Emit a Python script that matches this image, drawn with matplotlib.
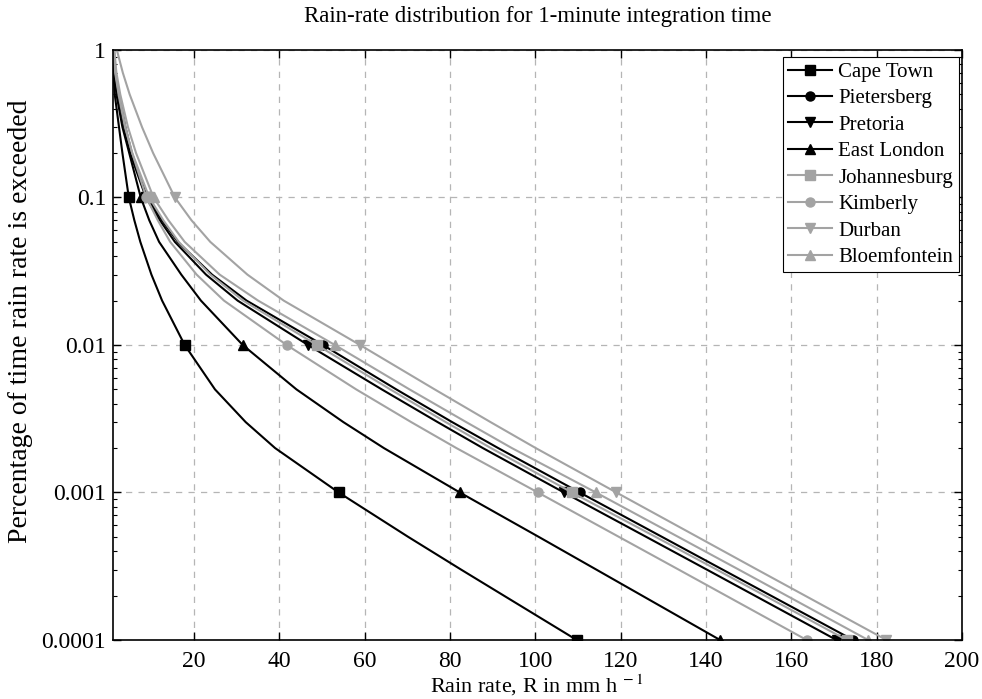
import matplotlib
matplotlib.use("Agg")
import matplotlib.pyplot as plt
import numpy as np
from matplotlib.ticker import FixedLocator, FixedFormatter, LogLocator, NullFormatter

PERCENT = [1, 0.7, 0.5, 0.3, 0.2, 0.1, 0.07, 0.05, 0.03, 0.02, 0.01,
           0.005, 0.003, 0.002, 0.001, 0.0005, 0.0003, 0.0001]
MARKED_PERCENT = [0.1, 0.01, 0.001, 0.0001]

CITIES = ["Cape Town", "Pietersberg", "Pretoria", "East London",
          "Johannesburg", "Kimberly", "Durban", "Bloemfontein"]

# rain rate R (mm/h) for each percentage above
cape_town = [1.0, 1.1, 1.4, 2.4, 3.2, 4.7, 6.0, 7.4, 10.0, 12.5, 17.8,
             24.9, 32.1, 39.0, 53.9, 70.2, 82.6, 109.7]
pietersberg = [1.2, 1.6, 2.4, 3.9, 5.4, 9.0, 12.5, 16.2, 24.2, 32.3, 50.2,
               67.4, 80.5, 91.3, 110.4, 129.7, 143.9, 174.5]
pretoria = [1.1, 1.5, 2.2, 3.6, 5.0, 8.7, 12.0, 15.5, 22.8, 30.2, 46.7,
            64.0, 77.1, 87.7, 106.7, 126.0, 140.2, 170.6]
east_london = [1.0, 1.3, 1.8, 3.2, 4.8, 7.5, 9.5, 11.8, 17.0, 21.6, 31.4,
               44.0, 55.0, 64.5, 82.3, 100.8, 114.3, 143.3]
johannesburg = [1.2, 1.6, 2.4, 3.9, 5.5, 9.5, 12.8, 16.4, 23.8, 31.5, 48.8,
                66.0, 79.0, 89.6, 108.6, 128.2, 142.5, 173.0]
kimberly = [1.1, 1.5, 2.3, 3.8, 5.5, 8.8, 11.5, 14.4, 20.6, 27.0, 41.7,
            58.0, 70.9, 81.5, 100.6, 119.6, 133.6, 163.6]
durban = [1.9, 3.3, 4.9, 7.8, 10.4, 15.5, 19.4, 23.8, 32.5, 41.0, 58.9,
          76.4, 89.5, 100.1, 119.0, 138.0, 152.0, 182.3]
bloemfontein = [1.3, 1.8, 2.7, 4.5, 6.4, 10.5, 14.0, 17.8, 26.0, 35.0, 53.0,
                70.5, 83.8, 94.5, 114.2, 133.5, 147.7, 178.0]

SERIES = [cape_town, pietersberg, pretoria, east_london,
          johannesburg, kimberly, durban, bloemfontein]
MARKERS = ["s", "o", "v", "^", "s", "o", "v", "^"]
COLORS = ["black"] * 4 + ["#a3a3a3"] * 4

plt.rcParams["font.family"] = ["Liberation Serif", "DejaVu Serif"]
plt.rcParams["mathtext.fontset"] = "stix"

fig = plt.figure(figsize=(9.82, 6.99), dpi=100)
ax = fig.add_axes([0.1151, 0.0844, 0.8645, 0.8441])

mark_idx = [PERCENT.index(p) for p in MARKED_PERCENT]
for name, values, marker, color in zip(CITIES, SERIES, MARKERS, COLORS):
    ax.plot(values, PERCENT, color=color, linewidth=1.5, marker=marker,
            markersize=6.5, markevery=mark_idx, markerfacecolor=color,
            markeredgecolor=color, label=name)

ax.set_yscale("log")
ax.set_xlim(1, 200)
ax.set_ylim(0.0001, 1)

ax.xaxis.set_major_locator(FixedLocator([20, 40, 60, 80, 100, 120, 140, 160, 180, 200]))
ax.yaxis.set_major_locator(FixedLocator([0.0001, 0.001, 0.01, 0.1, 1]))
ax.yaxis.set_major_formatter(FixedFormatter(["0.0001", "0.001", "0.01", "0.1", "1"]))
ax.yaxis.set_minor_locator(LogLocator(base=10, subs=np.arange(2, 10)))
ax.yaxis.set_minor_formatter(NullFormatter())

ax.tick_params(which="both", direction="in", top=True, right=True, labelsize=17)
ax.tick_params(which="major", length=6, width=1)
ax.tick_params(which="minor", length=3, width=0.8)
ax.tick_params(axis="x", which="major", pad=8)
ax.tick_params(axis="y", which="major", pad=5)
for spine in ax.spines.values():
    spine.set_linewidth(1.2)

ax.grid(True, which="major", color="#b5b5b5", linestyle=(0, (5, 5)), linewidth=0.9)
ax.set_axisbelow(True)

ax.set_title("Rain-rate distribution for 1-minute integration time", fontsize=16.5, pad=20)
ax.set_xlabel("Rain rate, R in mm h$^{\\ -1}$", fontsize=16, labelpad=0)
ax.set_ylabel("Percentage of time rain rate is exceeded", fontsize=20)
ax.yaxis.set_label_coords(-0.094, 0.54)

leg = ax.legend(loc="upper right", bbox_to_anchor=(0.996, 0.988), fontsize=15,
                frameon=True, fancybox=False, edgecolor="black", framealpha=1,
                handlelength=2.1, handletextpad=0.3, labelspacing=0.33,
                borderpad=0.25, borderaxespad=0)
leg.get_frame().set_linewidth(0.8)

fig.savefig("out.png", dpi=100)
